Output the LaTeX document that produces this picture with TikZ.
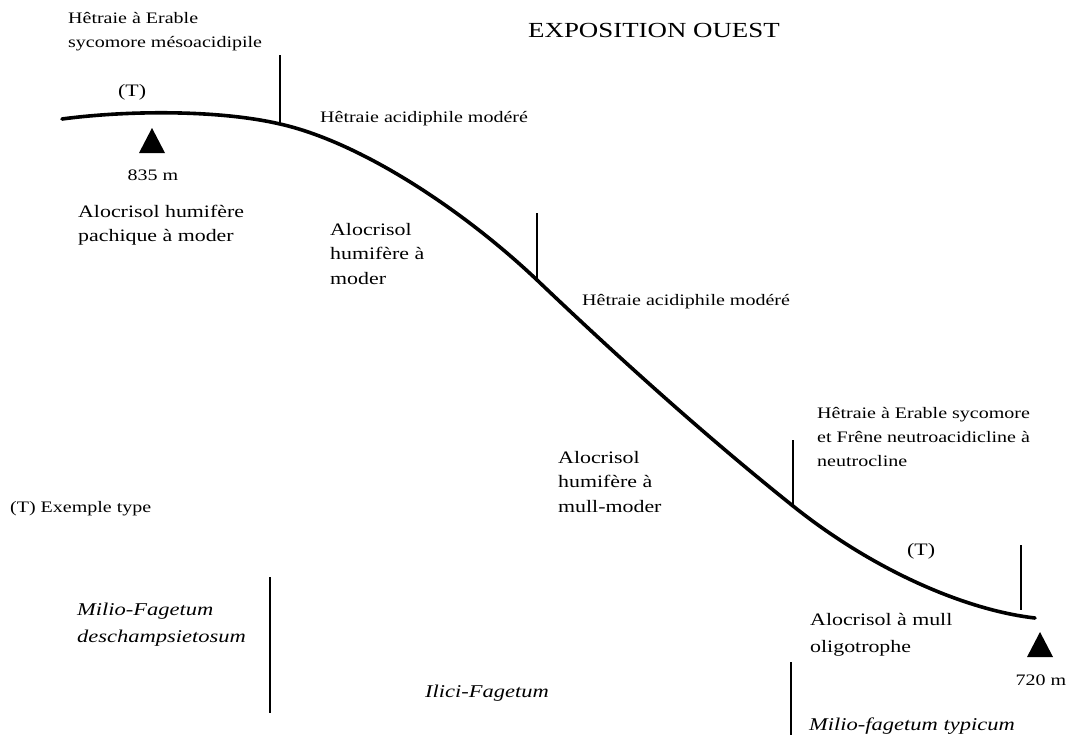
\documentclass[tikz,border=0pt]{standalone}
\usepackage{fontspec}
\setmainfont[FakeStretch=1.25]{Liberation Serif}
\newcommand\mylines[1]{\begin{tabular}[t]{@{}l@{}}#1\end{tabular}}
\tikzset{
  lbl/.style={inner sep=0pt, anchor=base west, text=black},
  smalltxt/.style={lbl, font=\fontsize{16}{24}\selectfont},
  bigtxt/.style={lbl, font=\fontsize{17.5}{24.5}\selectfont},
  bigwide/.style={lbl, font=\fontsize{17.5}{27}\selectfont},
  itxt/.style={lbl, font=\fontsize{18}{27}\selectfont\itshape},
  titletxt/.style={lbl, font=\fontsize{21.5}{26}\selectfont},
  slope/.style={line width=3.6pt, line cap=round, line join=round},
  limit/.style={line width=1.6pt},
  summit/.style={fill=black}
}
\begin{document}
\begin{tikzpicture}[x=1pt, y=-1pt]
\useasboundingbox (0,0) rectangle (1075,742);

% slope profile
\coordinate (p0) at (62,119);
\coordinate (p1) at (280,124);
\coordinate (p2) at (537,280);
\coordinate (p3) at (793,506);
\coordinate (p4) at (1035,618);
\draw[slope] (p0) .. controls (130,110) and (220,110) .. (p1)
  .. controls (360,142) and (462,209) .. (p2)
  .. controls (622,361) and (708,438) .. (p3)
  .. controls (873,570) and (965,610) .. (p4);

% vertical limits
\coordinate (t1a) at (280,55);
\coordinate (t2a) at (537,213);
\coordinate (t3a) at (793,440);
\coordinate (t4a) at (1021,545); \coordinate (t4b) at (1021,610);
\coordinate (t5a) at (270,577); \coordinate (t5b) at (270,713);
\coordinate (t6a) at (791,662); \coordinate (t6b) at (791,735);
\draw[limit] (t1a) -- (p1);
\draw[limit] (t2a) -- (p2);
\draw[limit] (t3a) -- (p3);
\draw[limit] (t4a) -- (t4b);
\draw[limit] (t5a) -- (t5b);
\draw[limit] (t6a) -- (t6b);

% summit triangles
\fill[summit] (152,128) -- (165,153) -- (139,153) -- cycle;
\fill[summit] (1040,632) -- (1053,657) -- (1027,657) -- cycle;

% texts
\node[smalltxt] (hea1) at (68,23) {\mylines{Hêtraie à Erable\\sycomore mésoacidipile}};
\node[titletxt] (title) at (528,37) {EXPOSITION OUEST};
\node[bigtxt] (t1) at (118,96) {(T)};
\node[smalltxt] (ham1) at (320,122) {Hêtraie acidiphile modéré};
\node[smalltxt, anchor=base] (alt1) at (153,180) {835 m};
\node[bigtxt] (al1) at (78,217) {\mylines{Alocrisol humifère\\pachique à moder}};
\node[bigtxt] (al2) at (330,235) {\mylines{Alocrisol\\humifère à\\moder}};
\node[smalltxt] (ham2) at (582,305) {Hêtraie acidiphile modéré};
\node[smalltxt] (hef) at (817,418) {\mylines{Hêtraie à Erable sycomore\\et Frêne neutroacidicline à\\neutrocline}};
\node[bigtxt] (al3) at (558,463) {\mylines{Alocrisol\\humifère à\\mull-moder}};
\node[smalltxt] (leg) at (10,512) {(T) Exemple type};
\node[bigtxt] (t2) at (907,555) {(T)};
\node[itxt] (mfd) at (77,615) {\mylines{Milio-Fagetum\\deschampsietosum}};
\node[bigwide] (al4) at (810,625) {\mylines{Alocrisol à mull\\oligotrophe}};
\node[itxt] (ilf) at (425,697) {Ilici-Fagetum};
\node[smalltxt, anchor=base] (alt2) at (1041,685) {720 m};
\node[itxt] (mft) at (809,730) {Milio-fagetum typicum};
\end{tikzpicture}
\end{document}
